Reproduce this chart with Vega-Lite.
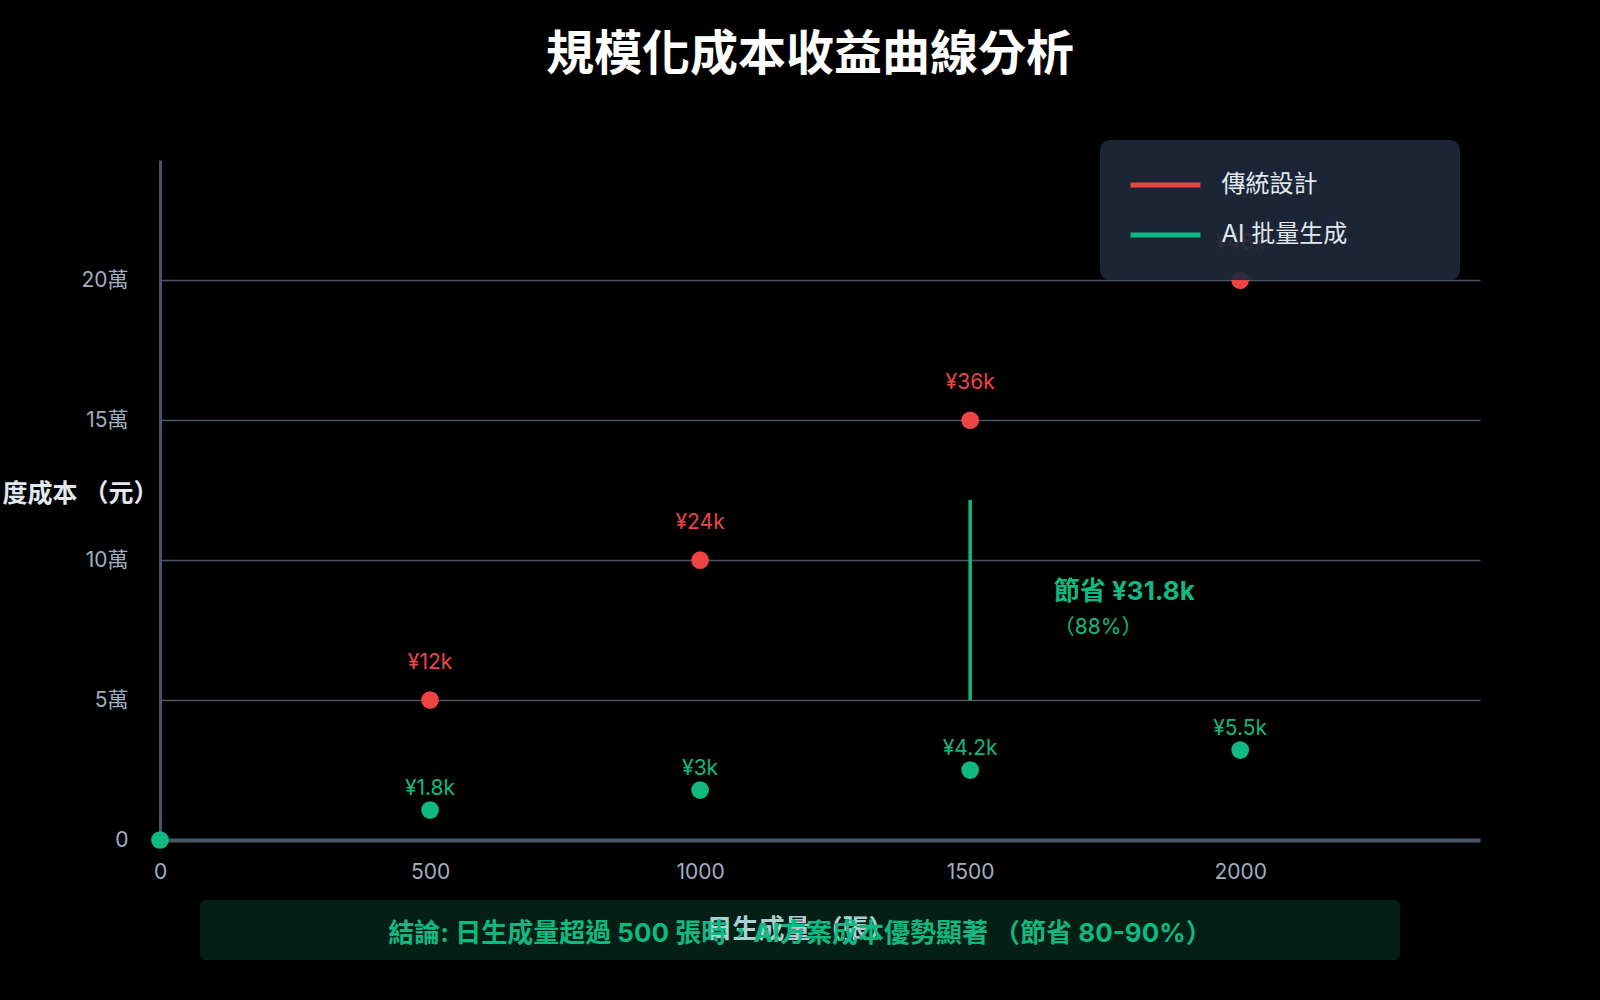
{
  "$schema": "https://vega.github.io/schema/vega-lite/v6.json",
  "width": 1320,
  "height": 680,
  "autosize": {"type": "none"},
  "padding": {"left": 160, "top": 160, "right": 120, "bottom": 160},
  "background": "#000000",
  "config": {
    "font": "Inter, 'Noto Sans CJK TC'",
    "view": {"stroke": null},
    "title": {"fontSize": 48, "fontWeight": "bold", "color": "#ffffff"}
  },
  "title": {"text": "規模化成本收益曲線分析", "anchor": "middle", "frame": "group", "dx": -10, "offset": 60},

  "encoding": {
    "x": {
      "type": "quantitative",
      "scale": {"domain": [0, 2444], "nice": false, "zero": false},
      "axis": {
        "values": [0, 500, 1000, 1500, 2000],
        "format": "d",
        "labelFlush": false,
        "grid": false,
        "ticks": false,
        "domainColor": "#4a5568",
        "domainWidth": 4,
        "labelColor": "#a0aec0",
        "labelFontSize": 21,
        "labelPadding": 21,
        "title": "日生成量 （張）",
        "titleColor": "#cbd5e1",
        "titleFontSize": 26,
        "titleFontWeight": "bold",
        "titleX": 640,
        "titleY": 89,
        "titleBaseline": "middle",
        "titleAlign": "center"
      }
    },
    "y": {
      "type": "quantitative",
      "scale": {"domain": [0, 243000], "nice": false},
      "axis": {
        "values": [0, 50000, 100000, 150000, 200000],
        "labelExpr": "datum.value == 0 ? '0' : (datum.value / 10000) + '萬'",
        "grid": true,
        "gridColor": "#4a5568",
        "gridWidth": 1.5,
        "ticks": false,
        "domainColor": "#4a5568",
        "domainWidth": 3,
        "labelColor": "#a0aec0",
        "labelFontSize": 21,
        "labelPadding": 32,
        "title": "月度成本 （元）",
        "titleColor": "#e2e8f0",
        "titleFontSize": 25,
        "titleFontWeight": "bold",
        "titleAngle": 0,
        "titleAlign": "right",
        "titleBaseline": "middle",
        "titleX": -2,
        "titleY": 333
      }
    }
  },

  "layer": [
    {
      "data": {"values": [{}]},
      "mark": {"type": "rule", "color": "#10b981", "strokeWidth": 3.5},
      "encoding": {
        "x": {"datum": 1500},
        "y": {"datum": 50000},
        "y2": {"datum": 121500}
      }
    },
    {
      "data": {"name": "costs", "values": [
        {"volume": 500, "cost": 50000, "series": "傳統設計", "label": "¥12k"},
        {"volume": 1000, "cost": 100000, "series": "傳統設計", "label": "¥24k"},
        {"volume": 1500, "cost": 150000, "series": "傳統設計", "label": "¥36k"},
        {"volume": 2000, "cost": 200000, "series": "傳統設計", "label": "¥48k"},
        {"volume": 0, "cost": 0, "series": "AI 批量生成", "label": ""},
        {"volume": 500, "cost": 10710, "series": "AI 批量生成", "label": "¥1.8k"},
        {"volume": 1000, "cost": 17860, "series": "AI 批量生成", "label": "¥3k"},
        {"volume": 1500, "cost": 25000, "series": "AI 批量生成", "label": "¥4.2k"},
        {"volume": 2000, "cost": 32140, "series": "AI 批量生成", "label": "¥5.5k"}
      ]},
      "layer": [
        {
          "mark": {"type": "circle", "size": 314, "opacity": 1},
          "encoding": {
            "x": {"field": "volume"},
            "y": {"field": "cost"},
            "color": {
              "field": "series",
              "type": "nominal",
              "sort": null,
              "scale": {"domain": ["傳統設計", "AI 批量生成"], "range": ["#ef4444", "#10b981"]},
              "legend": {
                "title": "傳統設計",
                "titleOrient": "right",
                "titleColor": "transparent",
                "titleFontSize": 20,
                "titlePadding": 0,
                "orient": "none",
                "legendX": 940,
                "legendY": -20,
                "fillColor": "rgba(30,41,59,0.9)",
                "cornerRadius": 10,
                "padding": 33,
                "symbolType": "M-3.5,-0.25H3.5V0.25H-3.5Z",
                "symbolSize": 400,
                "symbolStrokeWidth": 0,
                "symbolOpacity": 1,
                "symbolOffset": 20.5,
                "rowPadding": 26,
                "labelOffset": 44,
                "labelFontSize": 24,
                "labelColor": "#e2e8f0",
                "labelLimit": 600
              }
            }
          }
        },
        {
          "transform": [{"filter": "datum.series == '傳統設計'"}],
          "mark": {"type": "text", "dy": -37, "fontSize": 21, "color": "#ef4444"},
          "encoding": {
            "x": {"field": "volume"},
            "y": {"field": "cost"},
            "text": {"field": "label"}
          }
        },
        {
          "transform": [{"filter": "datum.series == 'AI 批量生成'"}],
          "mark": {"type": "text", "dy": -21, "fontSize": 21, "color": "#10b981"},
          "encoding": {
            "x": {"field": "volume"},
            "y": {"field": "cost"},
            "text": {"field": "label"}
          }
        }
      ]
    },
    {
      "data": {"values": [{}]},
      "mark": {"type": "text", "align": "left", "baseline": "middle", "fontSize": 26, "fontWeight": "bold", "color": "#10b981", "text": "節省 ¥31.8k"},
      "encoding": {"x": {"datum": 1655}, "y": {"datum": 88620}}
    },
    {
      "data": {"values": [{}]},
      "mark": {"type": "text", "align": "left", "baseline": "middle", "fontSize": 21, "color": "#10b981", "text": "（88%）"},
      "encoding": {"x": {"datum": 1655}, "y": {"datum": 75760}}
    },
    {
      "data": {"values": [{}]},
      "mark": {"type": "rect", "color": "#10b981", "opacity": 0.17, "cornerRadius": 6},
      "encoding": {
        "x": {"datum": 74},
        "x2": {"datum": 2296},
        "y": {"datum": -21440},
        "y2": {"datum": -42880}
      }
    },
    {
      "data": {"values": [{}]},
      "mark": {"type": "text", "align": "center", "baseline": "middle", "fontSize": 26, "fontWeight": "bold", "color": "#10b981", "text": "結論: 日生成量超過 500 張時，AI方案成本優勢顯著 （節省 80-90%）"},
      "encoding": {"x": {"datum": 1185}, "y": {"datum": -33600}}
    }
  ]
}
